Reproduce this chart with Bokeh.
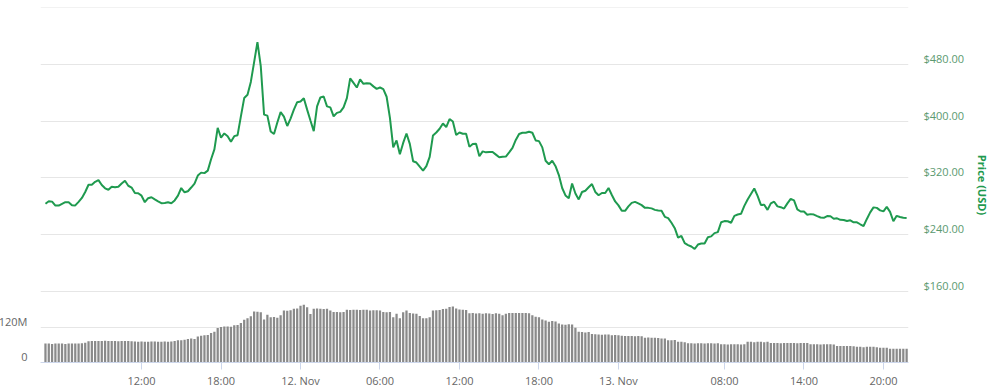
from datetime import datetime, timedelta
import pandas as pd
from bokeh.plotting import figure
from bokeh.models import Range1d, LinearAxis, FixedTicker, Grid, NumeralTickFormatter, ColumnDataSource, Label
from bokeh.embed import file_html
from bokeh.resources import INLINE

# ---------------- data (15-minute samples) ----------------
start_time = "2017-11-11 04:45"
step = "15min"

price = [
    283.5, 287.0, 286.4, 280.8, 280.8, 283.2, 285.6, 285.6, 281.4, 281.1,
    286.0, 291.6, 300.0, 310.2, 310.2, 314.4, 316.8, 309.8, 305.2, 303.2,
    307.4, 306.6, 307.4, 311.9, 315.8, 308.8, 306.3, 298.6, 298.2, 294.8,
    285.6, 291.2, 292.6, 289.5, 286.7, 284.2, 284.6, 285.6, 284.2, 288.1,
    294.8, 305.6, 299.6, 301.0, 306.3, 311.9, 323.1, 327.3, 326.6, 330.1,
    346.2, 360.1, 390.5, 376.5, 382.5, 378.7, 370.9, 378.7, 380.1, 406.7,
    432.4, 437.0, 455.2, 483.2, 511.2, 477.6, 409.1, 407.7, 385.3, 381.8,
    397.9, 412.6, 406.3, 393.0, 403.5, 416.1, 426.6, 427.7, 432.2, 416.1,
    400.7, 385.7, 420.7, 433.3, 434.7, 420.7, 419.3, 406.7, 411.5, 412.9,
    419.3, 432.4, 460.1, 453.8, 447.3, 458.7, 452.5, 453.4, 452.9, 448.9,
    445.4, 447.3, 445.0, 434.3, 404.5, 362.9, 372.7, 353.1, 369.2, 382.5,
    367.8, 343.4, 341.5, 335.7, 330.1, 336.4, 349.6, 379.7, 383.9, 389.1,
    396.5, 391.6, 402.8, 399.3, 380.4, 383.9, 382.1, 382.1, 363.6, 367.8,
    368.1, 350.4, 357.3, 355.9, 356.4, 356.4, 352.7, 349.0, 349.6, 349.9,
    355.9, 362.2, 373.4, 381.8, 383.5, 383.5, 385.0, 383.5, 372.7, 371.7,
    362.9, 344.0, 339.2, 344.0, 336.4, 323.8, 305.6, 295.1, 291.2, 311.9,
    297.9, 289.5, 300.0, 301.8, 306.6, 311.2, 300.0, 295.4, 298.6, 298.6,
    305.6, 295.8, 286.7, 281.1, 273.4, 273.4, 279.7, 284.6, 286.0, 283.9,
    281.5, 277.6, 277.6, 276.9, 274.8, 273.9, 273.4, 265.0, 263.2, 256.6,
    249.0, 235.7, 238.0, 228.0, 225.2, 223.1, 219.6, 225.9, 227.3, 227.3,
    236.3, 237.4, 242.0, 243.4, 257.3, 259.0, 258.7, 256.6, 266.4, 268.2,
    269.2, 280.4, 289.5, 297.2, 304.9, 294.4, 281.8, 282.1, 274.8, 283.9,
    286.3, 279.7, 278.6, 276.6, 283.9, 290.2, 288.1, 275.5, 272.5, 272.5,
    267.8, 268.8, 268.1, 266.0, 264.0, 263.6, 266.0, 265.7, 262.2, 262.9,
    260.8, 260.6, 259.0, 260.1, 257.3, 257.3, 254.5, 252.0, 262.0, 271.3,
    278.3, 277.6, 274.1, 272.6, 279.0, 272.0, 258.7, 266.4, 264.7, 263.6,
    263.4,
]

volume_millions = [
    64, 64, 63, 64, 64, 64, 63, 64, 64, 64, 64, 65,
    67,
    72, 73, 73, 73, 73, 74, 73, 73, 73, 72, 73, 73, 73, 72,
    71, 70, 71, 70, 70, 71, 71, 70, 70, 71, 70, 71,
    73, 75, 75, 77,
    80, 81, 80,
    88, 91, 92, 93,
    100, 104,
    117,
    120, 122, 122, 121,
    126, 127,
    134,
    145, 150,
    157,
    173, 172,
    170,
    146,
    162,
    153, 154, 152,
    160,
    176, 175, 177,
    182, 183,
    192, 196,
    187,
    164,
    182, 183, 182, 181, 182,
    176, 171,
    171, 170, 171,
    179, 178, 179, 179, 178, 179, 179,
    176, 177,
    177, 176,
    171, 170, 171,
    153,
    165,
    150,
    170, 176,
    168, 166, 165,
    158, 150, 150,
    153,
    176, 177, 178,
    181, 182,
    188, 190,
    183, 180, 179, 178,
    167, 168, 166, 167, 165, 167, 166, 164, 167, 165,
    160,
    165, 168, 168, 168, 168, 168, 168, 167,
    160,
    155, 153,
    146, 142,
    138, 141, 139,
    132, 129, 128, 130, 129,
    118,
    104, 103, 102, 103,
    97, 96, 95, 94, 95, 95,
    92, 93, 92,
    91, 90, 90, 90, 89, 90, 89,
    84, 85, 84, 84, 83,
    81, 81,
    75, 75, 76,
    70, 70, 69,
    65, 65, 64, 65, 65, 64, 65, 65, 64, 65,
    62, 62, 61, 62, 62, 62, 61, 62,
    70, 70, 69, 70, 70, 69, 70,
    66, 66, 66, 65, 66, 66, 66, 66, 65, 66, 66, 66,
    62, 62, 62, 61, 62, 62, 62, 61,
    56, 56, 56, 56, 56, 55,
    53, 53, 52, 53, 53, 53, 52,
    50, 50, 50,
    47, 47, 47, 47, 47, 47,
]

x_tick_times = ["2017-11-11 12:00", "2017-11-11 18:00", "2017-11-12 00:00", "2017-11-12 06:00",
                "2017-11-12 12:00", "2017-11-12 18:00", "2017-11-13 00:00", "2017-11-13 08:00",
                "2017-11-13 14:00", "2017-11-13 20:00"]
x_tick_labels = ["12:00", "18:00", "12. Nov", "06:00", "12:00", "18:00", "13. Nov", "08:00", "14:00", "20:00"]

price_ticks = [160, 240, 320, 400, 480]
volume_ticks = [0, 120_000_000]
volume_tick_labels = ["0", "120M"]

# ---------------- build ----------------
n = min(len(price), len(volume_millions))
times = pd.date_range(start_time, periods=n, freq=step)
src = ColumnDataSource(dict(t=times, price=price[:n], vol=[v * 1e6 for v in volume_millions[:n]]))

x_start = datetime(2017, 11, 11, 4, 22, 30)
x_end = datetime(2017, 11, 13, 21, 53, 30)

FONT = "Open Sans"
GREEN = "#1f9a4f"

p = figure(width=1000, height=390, x_axis_type="datetime",
           x_range=Range1d(x_start, x_end), y_range=Range1d(59.6, 560.1),
           output_backend="svg", toolbar_location=None, y_axis_location=None,
           min_border_left=40, min_border_right=92, min_border_top=7, min_border_bottom=25)
p.outline_line_color = None
p.xgrid.visible = False
p.ygrid.visible = False

px_price = 1.398
px_vol = 3.3613e6
p.extra_y_ranges = {
    "vol": Range1d(0, 1203.3e6),
    "vlab": Range1d(-6 * px_vol, 1203.3e6 - 6 * px_vol),
    "plab": Range1d(59.6 - 6 * px_price, 560.1 - 6 * px_price),
}

# grids
p.add_layout(Grid(dimension=1, ticker=FixedTicker(ticks=price_ticks + [560]),
                  grid_line_color="#e6e6e6", grid_line_width=1))
p.add_layout(Grid(dimension=1, ticker=FixedTicker(ticks=[120e6]), y_range_name="vol",
                  grid_line_color="#e6e6e6", grid_line_width=1))

# volume bars
bar_w = 15 * 60 * 1000 * 0.68
p.vbar(x="t", width=bar_w, top="vol", bottom=0, y_range_name="vol", source=src,
       fill_color="#8a8a8a", line_color=None)

# price line
p.line("t", "price", source=src, line_color=GREEN, line_width=2)

# x axis
tick_ms = [int(pd.Timestamp(s).value // 10**6) for s in x_tick_times]
xa = p.xaxis[0]
xa.ticker = FixedTicker(ticks=tick_ms)
xa.major_label_overrides = {ms: lab for ms, lab in zip(tick_ms, x_tick_labels)}
xa.axis_line_color = "#ccd6eb"
xa.major_tick_line_color = "#ccd6eb"
xa.major_tick_in = 0
xa.major_tick_out = 7
xa.minor_tick_line_color = None
xa.major_label_standoff = 3
xa.major_label_text_font = FONT
xa.major_label_text_font_size = "11px"
xa.major_label_text_color = "#666666"

# price axis (right)
pa = LinearAxis(y_range_name="plab", ticker=FixedTicker(ticks=price_ticks),
                formatter=NumeralTickFormatter(format="$0.00"),
                axis_label="Price (USD)", bounds=(152, 552))
pa.axis_line_color = None
pa.major_tick_line_color = None
pa.minor_tick_line_color = None
pa.major_tick_in = 0
pa.major_tick_out = 0
pa.major_label_standoff = 15
pa.major_label_text_font = FONT
pa.major_label_text_font_size = "11px"
pa.major_label_text_color = "#5b9a70"
pa.axis_label_text_font = FONT
pa.axis_label_text_font_size = "11px"
pa.axis_label_text_font_style = "bold"
pa.axis_label_text_color = GREEN
pa.axis_label_standoff = 8
p.add_layout(pa, "right")

# volume tick labels, drawn in the left border (13 px left of the frame)
label_x = x_start - timedelta(minutes=59)
for t, lab in zip(volume_ticks, volume_tick_labels):
    p.add_layout(Label(x=label_x, y=t, y_range_name="vlab", text=lab,
                       text_align="right", text_baseline="middle",
                       text_font=FONT, text_font_size="11px", text_color="#666666"), "left")

open("out.html", "w").write(file_html(p, INLINE))
